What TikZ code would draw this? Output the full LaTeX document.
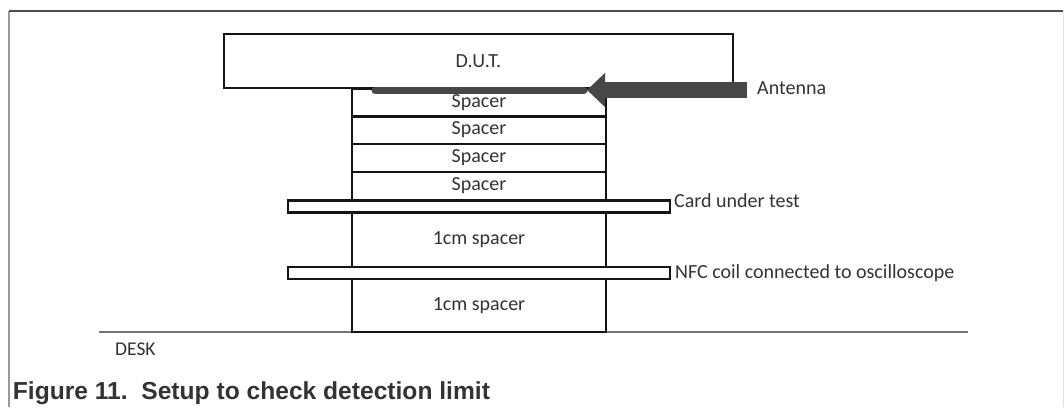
\documentclass[tikz,border=0pt]{standalone}
\usepackage{fontspec}
\setmainfont{Carlito}
\newfontfamily\capfont{Liberation Sans}
\usetikzlibrary{arrows.meta}
\definecolor{ink}{HTML}{141414}
\definecolor{txt}{HTML}{333333}
\definecolor{ant}{HTML}{474747}
\tikzset{
  part/.style={draw=ink, line width=2.2pt, rectangle, inner sep=0pt, outer sep=0pt,
    text=txt, font=\fontsize{20}{23}\selectfont},
  bar/.style={part, minimum width=382pt, minimum height=12pt},
  spacerbox/.style={part, minimum width=254pt},
  lbl/.style={anchor=west, inner sep=0pt, text=txt, font=\fontsize{20}{23}\selectfont},
}
\begin{document}
\begin{tikzpicture}[x=1pt,y=-1pt]
\useasboundingbox (0,0) rectangle (1064,407);
% frame
\draw[color=black!40, line width=1.5pt] (9,11) -- (9,407);
\draw[color=black!12, line width=1pt] (1063,11) -- (1063,407);
\draw[color=black!70, line width=1.5pt] (9,11) -- (1063,11);
% desk
\coordinate (deskL) at (99,332);
\coordinate (deskR) at (968,332);
\draw[color=black!55, line width=2.2pt] (deskL) -- (deskR);
% stack
\node[part, minimum width=509pt, minimum height=54pt] (dut) at (478.5,61) {D.U.T.};
\node[spacerbox, minimum height=28pt] (s1) at (479,102.5) {Spacer};
\node[spacerbox, minimum height=28pt] (s2) at (479,130) {Spacer};
\node[spacerbox, minimum height=28pt] (s3) at (479,158) {Spacer};
\node[spacerbox, minimum height=28pt] (s4) at (479,186) {Spacer};
\node[bar] (card) at (479,206.5) {};
\node[spacerbox, minimum height=54.6pt] (s5) at (479,240) {1cm spacer};
\node[bar] (nfc) at (479,273.3) {};
\node[spacerbox, minimum height=52.7pt] (s6) at (479,305.7) {1cm spacer};
% labels
\node[lbl] (cardlbl) at (674,201) {Card under test};
\node[lbl] (nfclbl) at (675,273) {NFC coil connected to oscilloscope};
\node[lbl] (antlbl) at (757,88) {Antenna};
\node[anchor=west, inner sep=0pt, text=txt, font=\fontsize{19.5}{22}\selectfont] (desk) at (115,349) {DESK};
% antenna
\coordinate (antL) at (375,90);
\coordinate (antR) at (584,90);
\draw[color=ant, line width=7pt, line cap=round] (antL) -- (antR);
\coordinate (arrTail) at (747,90);
\coordinate (arrTip) at (587,90);
\draw[color=ant, line width=16pt, -{Triangle[length=18pt,width=33pt]}] (arrTail) -- (arrTip);
% caption
\node[anchor=base west, inner sep=0pt, text=black!80, font=\capfont\bfseries\fontsize{24.6}{28}\selectfont] (cap) at (12.7,399.3) {Figure 11.\ \ Setup to check detection limit};
\end{tikzpicture}
\end{document}
